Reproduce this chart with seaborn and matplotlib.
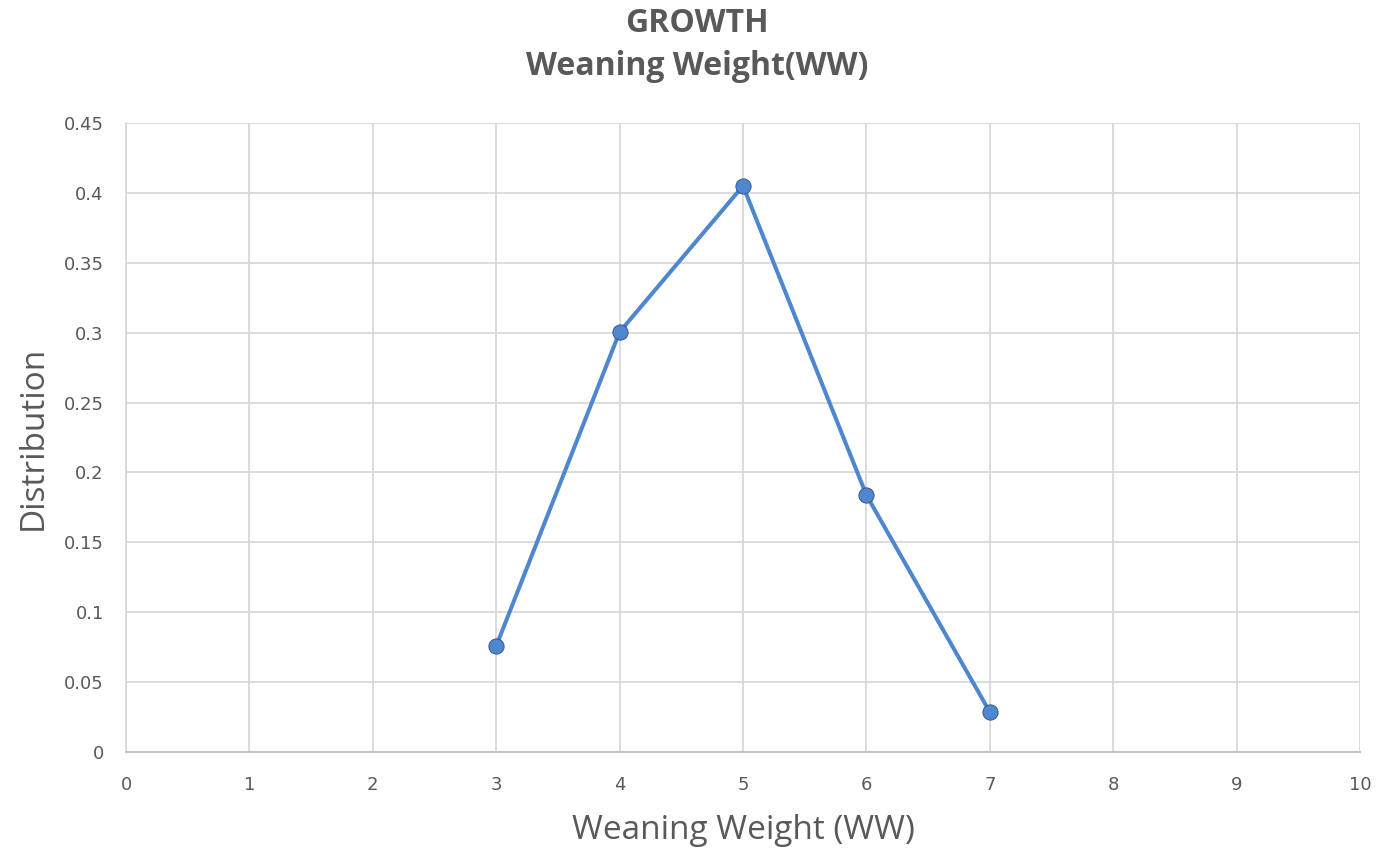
import matplotlib
matplotlib.use("Agg")
import matplotlib.pyplot as plt
import seaborn as sns
import pandas as pd

weaning_weight = [3, 4, 5, 6, 7]
distribution = [0.0758, 0.3005, 0.405, 0.1838, 0.0286]
x_ticks = list(range(0, 11))
y_ticks = [0, 0.05, 0.1, 0.15, 0.2, 0.25, 0.3, 0.35, 0.4, 0.45]
y_tick_labels = ["0", "0.05", "0.1", "0.15", "0.2", "0.25", "0.3", "0.35", "0.4", "0.45"]

df = pd.DataFrame({"ww": weaning_weight, "dist": distribution})

sns.set_theme(style="white")
plt.rcParams["font.family"] = ["DejaVu Sans"]

fig = plt.figure(figsize=(13.94, 8.5), dpi=100)
ax = fig.add_axes([0.0904, 0.1153, 0.8852, 0.74])

line_color = "#4E86D0"
sns.lineplot(data=df, x="ww", y="dist", ax=ax, color=line_color, linewidth=2.9,
             marker="o", markersize=11, markerfacecolor=line_color,
             markeredgecolor="#2F4F7A", markeredgewidth=0.6, zorder=3)

ax.set_xlim(0, 10)
ax.set_ylim(0, 0.45)
ax.set_xticks(x_ticks)
ax.set_xticklabels([str(t) for t in x_ticks])
ax.set_yticks(y_ticks)
ax.set_yticklabels(y_tick_labels)
ax.grid(True, color="#D9D9D9", linewidth=1.3)
ax.set_axisbelow(True)
for side in ["top", "right"]:
    ax.spines[side].set_visible(False)
ax.spines["left"].set_color("#D9D9D9")
ax.spines["bottom"].set_color("#BFBFBF")
ax.spines["left"].set_linewidth(1.3)
ax.spines["bottom"].set_linewidth(1.3)
ax.tick_params(axis="both", length=0, labelsize=13, colors="#595959")
ax.tick_params(axis="x", pad=17)
ax.tick_params(axis="y", pad=16)

ax.set_xlabel("Weaning Weight (WW)", fontsize=24, color="#595959",
              family="Open Sans", labelpad=15)
ax.set_ylabel("Distribution", fontsize=24, color="#595959",
              family="Open Sans", labelpad=10)

fig.text(0.5, 0.992, "GROWTH\nWeaning Weight(WW)", ha="center", va="top",
         fontsize=23, fontweight="bold", color="#595959", family="Open Sans",
         linespacing=1.42)

fig.savefig("out.png", dpi=100)
